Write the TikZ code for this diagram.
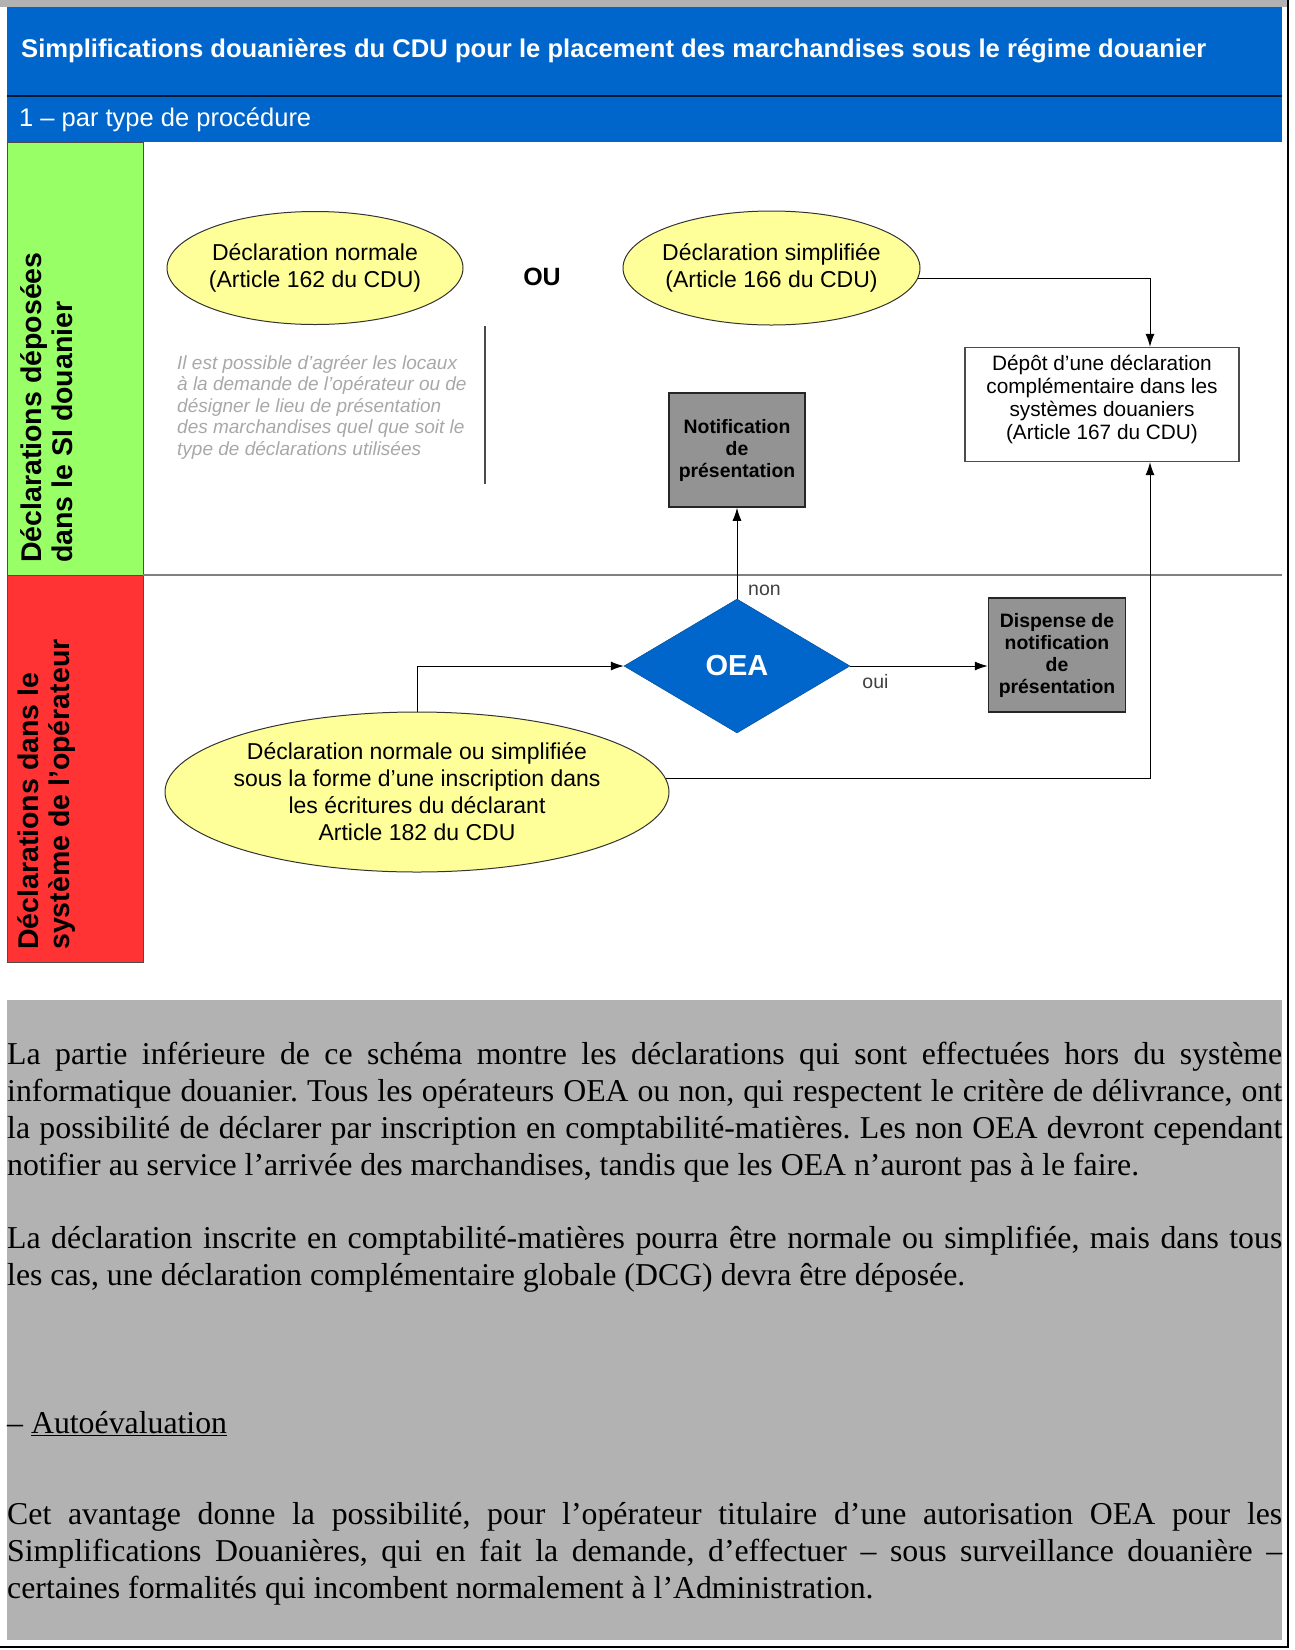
\documentclass[tikz,border=0pt]{standalone}
\usepackage{fontspec}
\setmainfont{Liberation Serif}
\newfontfamily\arial{Liberation Sans}
\usetikzlibrary{shapes,arrows.meta,positioning,calc}
\setlength{\parindent}{0pt}
\hyphenpenalty=10000
\exhyphenpenalty=10000
\frenchspacing

\definecolor{bandblue}{HTML}{0066CC}
\definecolor{lanegreen}{HTML}{99FF66}
\definecolor{lanered}{HTML}{FF3333}
\definecolor{declyellow}{HTML}{FFFF99}
\definecolor{boxgray}{HTML}{939393}
\definecolor{textgray}{HTML}{B2B2B2}
\definecolor{notegray}{HTML}{A8A8A8}

\tikzset{
  decl/.style={ellipse, draw=black!80, fill=declyellow, line width=1pt, inner xsep=-6pt, inner ysep=0pt, align=center, font=\arial\fontsize{23}{27}\selectfont},
  grisbox/.style={rectangle, draw=black!85, fill=boxgray, line width=1.5pt, inner sep=0pt, align=center, font=\arial\bfseries\fontsize{19.4}{22}\selectfont},
  blancbox/.style={rectangle, draw=black!70, fill=white, line width=1.3pt, inner sep=0pt, align=center, font=\arial\fontsize{20.8}{23}\selectfont},
  lane/.style={rotate=90, anchor=west, align=left, inner sep=0pt, font=\arial\bfseries\fontsize{28.5}{31}\selectfont},
  lien/.style={line width=1pt, -{Latex[length=13pt,width=9pt]}},
  etiq/.style={inner sep=0pt, text=black!75, font=\arial\fontsize{19.5}{22}\selectfont},
  para/.style={anchor=north west, inner sep=0pt, text width=1275pt, align=justify, font=\fontsize{31.8}{36.8}\selectfont}
}

\begin{document}
\begin{tikzpicture}[x=1pt,y=-1pt]
  \useasboundingbox (0,0) rectangle (1295,1650);
  % bandeau
  \fill[black!30] (0,0) rectangle (1288,7);
  \fill[bandblue] (7,7) rectangle (1282,142);
  \draw[line width=2pt, black!75!bandblue] (7,96) -- (1282,96);
  \node[anchor=west, inner sep=0pt, text=white, font=\arial\bfseries\fontsize{25.6}{30}\selectfont] (titre) at (21,51) {Simplifications douanières du CDU pour le placement des marchandises sous le régime douanier};
  \node[anchor=west, inner sep=0pt, text=white, font=\arial\fontsize{25.5}{30}\selectfont] (soustitre) at (19,120) {1 – par type de procédure};

  % couloirs
  \draw[black!70, fill=lanegreen] (7,142) rectangle (143,575);
  \draw[black!70, fill=lanered] (7,575) rectangle (143,962);
  \draw[black!50, line width=1.3pt] (143,575) -- (1282,575);
  \node[lane] (siLabel) at (47,563) {Déclarations déposées\\dans le SI douanier};
  \node[lane] (opLabel) at (47,950) {Déclarations dans le\\système de l’opérateur};

  % noeuds
  \node[decl, minimum width=296, minimum height=113] (normale) at (315,268) {Déclaration normale\\(Article 162 du CDU)};
  \node[font=\arial\bfseries\fontsize{25}{30}\selectfont] (ou) at (542,277) {OU};
  \node[decl, minimum width=297, minimum height=114] (simplifiee) at (771.5,268) {Déclaration simplifiée\\(Article 166 du CDU)};
  \node[anchor=north west, inner sep=0pt, align=left, text=notegray, font=\arial\itshape\fontsize{19}{21.5}\selectfont] (remarque) at (177,355) {Il est possible d’agréer les locaux\\à la demande de l’opérateur ou de\\désigner le lieu de présentation\\des marchandises quel que soit le\\type de déclarations utilisées};
  \draw[black!70, line width=1.3pt] (485,326) -- (485,484);
  \node[blancbox, minimum width=274, minimum height=114] (depot) at (1102,404.5) {Dépôt d’une déclaration\\complémentaire dans les\\systèmes douaniers\\(Article 167 du CDU)\\[-8pt]\mbox{}};
  \node[grisbox, minimum width=136, minimum height=114] (notif) at (737,450) {Notification\\de\\présentation};
  \node[diamond, fill=bandblue, draw=bandblue!70!black, minimum width=226, minimum height=134, inner sep=0pt, text=white, font=\arial\bfseries\fontsize{29}{32}\selectfont] (oea) at (737,666) {OEA};
  \node[grisbox, minimum width=137, minimum height=114] (dispense) at (1057,655) {Dispense de\\notification\\de\\présentation};
  \node[decl, minimum width=504, minimum height=160] (inscription) at (417,792) {Déclaration normale ou simplifiée\\sous la forme d’une inscription dans\\les écritures du déclarant\\Article 182 du CDU};
  \coordinate (rail) at (1150,0);

  % liens
  \draw[lien] (simplifiee.-4) -| (rail |- depot.north);
  \draw[lien] (oea.north) -- (notif.south);
  \node[etiq, anchor=south west, xshift=11pt, yshift=3pt] (non) at (oea.north) {non};
  \draw[lien] (oea.east) -- (oea.east -| dispense.west);
  \node[etiq, anchor=north west, xshift=12pt, yshift=-8pt] (oui) at (oea.east) {oui};
  \draw[lien] (inscription.north) |- (oea.west);
  \draw[lien] (inscription.3) -| (rail |- depot.south);

  % texte
  \fill[textgray] (7,1000) rectangle (1282,1640);
  \draw[black, line width=1.5pt] (1288,0) -- (1288,1647) -- (0,1647);
  \node[para] (p1) at (7,1039) {\strut La partie inférieure de ce schéma montre les déclarations qui sont effectuées hors du système\linebreak informatique douanier. Tous les opérateurs OEA ou non, qui respectent le critère de délivrance, ont\linebreak la possibilité de déclarer par inscription en comptabilité-matières. Les non OEA devront cependant\linebreak notifier au service l’arrivée des marchandises, tandis que les OEA n’auront pas à le faire.};
  \node[para] (p2) at (7,1223) {\strut La déclaration inscrite en comptabilité-matières pourra être normale ou simplifiée, mais dans tous\linebreak les cas, une déclaration complémentaire globale (DCG) devra être déposée.};
  \node[para] (auto) at (7,1408) {\strut – \underline{Autoévaluation}};
  \node[para] (p3) at (7,1499) {\strut Cet avantage donne la possibilité, pour l’opérateur titulaire d’une autorisation OEA pour les\linebreak Simplifications Douanières, qui en fait la demande, d’effectuer – sous surveillance douanière –\linebreak certaines formalités qui incombent normalement à l’Administration.};
\end{tikzpicture}
\end{document}
